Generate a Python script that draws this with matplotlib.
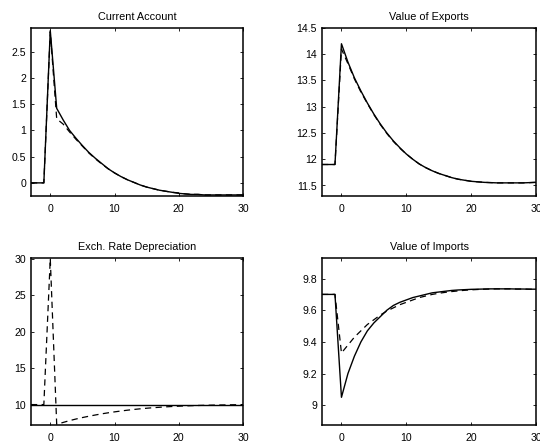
import matplotlib
matplotlib.use("Agg")
import matplotlib.pyplot as plt

plt.rcParams['font.family'] = ['Liberation Sans', 'DejaVu Sans']

periods = list(range(-3, 31))

# Current account: simulated (solid) vs approximation (dashed)
ca_solid = [0, 0, 0, 2.9, 1.42, 1.2, 1.0, 0.85, 0.71, 0.58, 0.47, 0.37, 0.27, 0.19,
            0.12, 0.06, 0.01, -0.04, -0.08, -0.11, -0.14, -0.16, -0.18, -0.2, -0.21,
            -0.22, -0.22, -0.23, -0.23, -0.23, -0.23, -0.23, -0.23, -0.23]
ca_dashed = [0, 0, 0, 2.88, 1.22, 1.12, 0.97, 0.83, 0.7, 0.57, 0.46, 0.36, 0.27, 0.19,
             0.12, 0.06, 0.01, -0.04, -0.08, -0.11, -0.14, -0.16, -0.18, -0.19, -0.21,
             -0.22, -0.22, -0.23, -0.23, -0.23, -0.23, -0.23, -0.23, -0.23]

exp_solid = [11.9, 11.9, 11.9, 14.2, 13.85, 13.55, 13.3, 13.07, 12.86, 12.67, 12.5,
             12.35, 12.22, 12.1, 12.0, 11.91, 11.84, 11.78, 11.73, 11.69, 11.65, 11.62,
             11.6, 11.58, 11.57, 11.56, 11.555, 11.55, 11.55, 11.55, 11.55, 11.55,
             11.555, 11.56]
exp_dashed = [11.9, 11.9, 11.9, 14.1, 13.82, 13.53, 13.28, 13.06, 12.85, 12.66, 12.49,
              12.34, 12.21, 12.1, 12.0, 11.91, 11.84, 11.78, 11.73, 11.69, 11.65, 11.62,
              11.6, 11.58, 11.57, 11.56, 11.555, 11.55, 11.55, 11.55, 11.55, 11.55,
              11.555, 11.56]

exch_solid = [10.0] * 34
exch_dashed = [10.0, 10.0, 10.0, 30.0, 7.3, 7.55, 7.8, 8.02, 8.22, 8.4, 8.57, 8.73,
               8.87, 9.0, 9.12, 9.23, 9.33, 9.42, 9.5, 9.57, 9.63, 9.69, 9.74, 9.78,
               9.82, 9.85, 9.88, 9.9, 9.92, 9.94, 9.95, 9.97, 9.98, 10.0]

imp_solid = [9.7, 9.7, 9.7, 9.05, 9.2, 9.31, 9.4, 9.47, 9.52, 9.56, 9.6, 9.63, 9.65,
             9.665, 9.68, 9.69, 9.7, 9.71, 9.715, 9.72, 9.725, 9.728, 9.73, 9.732,
             9.733, 9.734, 9.735, 9.735, 9.735, 9.735, 9.734, 9.734, 9.733, 9.733]
imp_dashed = [9.7, 9.7, 9.7, 9.33, 9.38, 9.43, 9.47, 9.51, 9.54, 9.57, 9.595, 9.615,
              9.635, 9.65, 9.665, 9.68, 9.69, 9.7, 9.707, 9.713, 9.718, 9.722, 9.726,
              9.729, 9.731, 9.733, 9.734, 9.735, 9.735, 9.735, 9.734, 9.734, 9.733, 9.733]

titles = ["Current Account", "Value of Exports", "Exch. Rate Depreciation", "Value of Imports"]
series = [(ca_solid, ca_dashed), (exp_solid, exp_dashed),
          (exch_solid, exch_dashed), (imp_solid, imp_dashed)]
ylims = [(-0.25, 2.95), (11.3, 14.5), (7.2, 30.1), (8.875, 9.93)]
yticks = [[0, 0.5, 1, 1.5, 2, 2.5], [11.5, 12, 12.5, 13, 13.5, 14, 14.5],
          [10, 15, 20, 25, 30], [9, 9.2, 9.4, 9.6, 9.8]]
ytick_labels = [["0", "0.5", "1", "1.5", "2", "2.5"],
                ["11.5", "12", "12.5", "13", "13.5", "14", "14.5"],
                ["10", "15", "20", "25", "30"],
                ["9", "9.2", "9.4", "9.6", "9.8"]]
xticks = [0, 10, 20, 30]

W, H = 540, 444
boxes = [(31, 28, 243, 196), (322, 28, 536, 196),
         (31, 258, 243, 425), (322, 258, 536, 425)]

fig = plt.figure(figsize=(W / 100, H / 100), dpi=100)
for i in range(4):
    x0, y0, x1, y1 = boxes[i]
    ax = fig.add_axes([x0 / W, 1 - y1 / H, (x1 - x0) / W, (y1 - y0) / H])
    solid, dashed = series[i]
    ax.plot(periods, dashed, color="black", linestyle=(0, (5, 3.5)), linewidth=0.9)
    ax.plot(periods, solid, color="black", linewidth=1.0)
    ax.set_xlim(-3, 30)
    ax.set_ylim(*ylims[i])
    ax.set_xticks(xticks)
    ax.set_yticks(yticks[i])
    ax.set_yticklabels(ytick_labels[i])
    ax.tick_params(direction="in", length=2.5, width=0.6, top=True, right=True,
                   labelsize=7.6)
    ax.tick_params(axis="x", pad=5.5)
    ax.tick_params(axis="y", pad=3.5)
    for sp in ax.spines.values():
        sp.set_linewidth(1.1)
    ax.set_title(titles[i], fontsize=7.8, pad=6)

fig.savefig("out.png", dpi=100)
